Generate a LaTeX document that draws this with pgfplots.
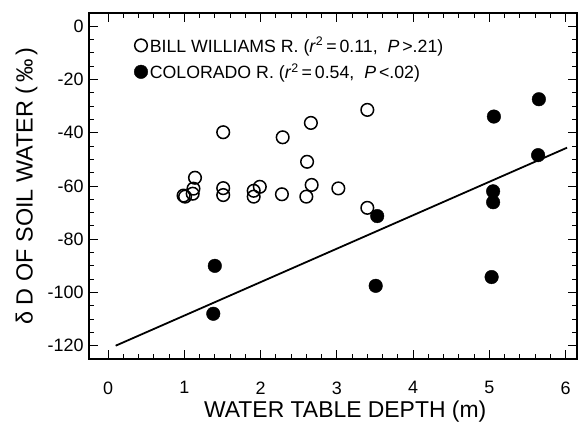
\documentclass[border=0pt]{standalone}
\usepackage{fontspec}
\setmainfont{Liberation Sans}
\usepackage{pgfplots}
\pgfplotsset{compat=1.18}
\usepackage{pgfplotstable}

% Bill Williams R. (open circles)
\pgfplotstableread{
x y
0.99 -63.6
1.01 -64.0
1.11 -62.9
1.12 -61.0
1.14 -56.9
1.51 -39.8
1.51 -60.8
1.51 -63.4
1.91 -61.8
1.91 -64.0
1.99 -60.3
2.29 -41.7
2.28 -63.1
2.66 -36.3
2.61 -50.9
2.67 -59.6
2.60 -64.0
3.02 -60.9
3.40 -31.4
3.40 -68.2
}\billwilliams

% Colorado R. (filled circles)
\pgfplotstableread{
x y
1.40 -90.0
1.38 -108.0
3.53 -71.3
3.51 -97.5
5.06 -33.9
5.05 -62.0
5.05 -66.1
5.03 -94.2
5.65 -27.4
5.64 -48.4
}\colorado

\begin{document}
\begin{tikzpicture}
\begin{axis}[
    scale only axis,
    width=488bp, height=346bp,
    xmin=-0.25, xmax=6.15,
    ymin=-125, ymax=5,
    xtick={0,...,6},
    ytick={-120,-100,...,0},
    minor x tick num=4,
    minor y tick num=3,
    major tick length=9bp,
    minor tick length=5bp,
    axis line style={line width=1.3bp},
    every tick/.style={line width=1bp, black},
    /pgf/number format/assume math mode=true,
    tick label style={font=\fontsize{18}{20}\selectfont},
    xticklabel style={yshift=-19bp},
    yticklabel style={xshift=-2bp},
    xlabel={WATER TABLE DEPTH (m)},
    ylabel={δ D OF SOIL WATER (\,‰\,)},
    xlabel style={at={(axis description cs:0.525,-0.152)}, anchor=center,
        font=\fontsize{23}{26}\selectfont},
    ylabel style={at={(axis description cs:-0.128,0.5)}, anchor=center,
        font=\fontsize{23.5}{26}\selectfont},
    legend style={at={(axis description cs:0,1)}, anchor=north west,
        xshift=45bp, yshift=-22bp, draw=none, fill=none, inner sep=0pt,
        row sep=6bp, font=\fontsize{17.8}{20}\selectfont,
        nodes={inner sep=2bp}},
    legend cell align=left,
    legend image code/.code={\draw[#1] plot coordinates {(0bp,0bp)};},
]
\addplot[only marks, mark=o, mark size=6.3bp, line width=1.5bp, black] table {\billwilliams};
\addlegendentry{BILL WILLIAMS R. (\textit{r}\textsuperscript{2}\,=\,0.11,\ \ \textit{P}\,>.21)}
\addplot[only marks, mark=*, mark size=6.8bp, black] table {\colorado};
\addlegendentry{COLORADO R. (\textit{r}\textsuperscript{2}\,=\,0.54,\ \ \textit{P}\,<.02)}
\addplot[no marks, line width=1.8bp, black, forget plot] coordinates {(0.10,-120.0) (6.02,-45.6)};
\end{axis}
\pgfresetboundingbox
\path[use as bounding box] ([xshift=-89bp,yshift=-72bp]current axis.south west)
    rectangle ([xshift=4bp,yshift=13bp]current axis.north east);
\end{tikzpicture}
\end{document}
